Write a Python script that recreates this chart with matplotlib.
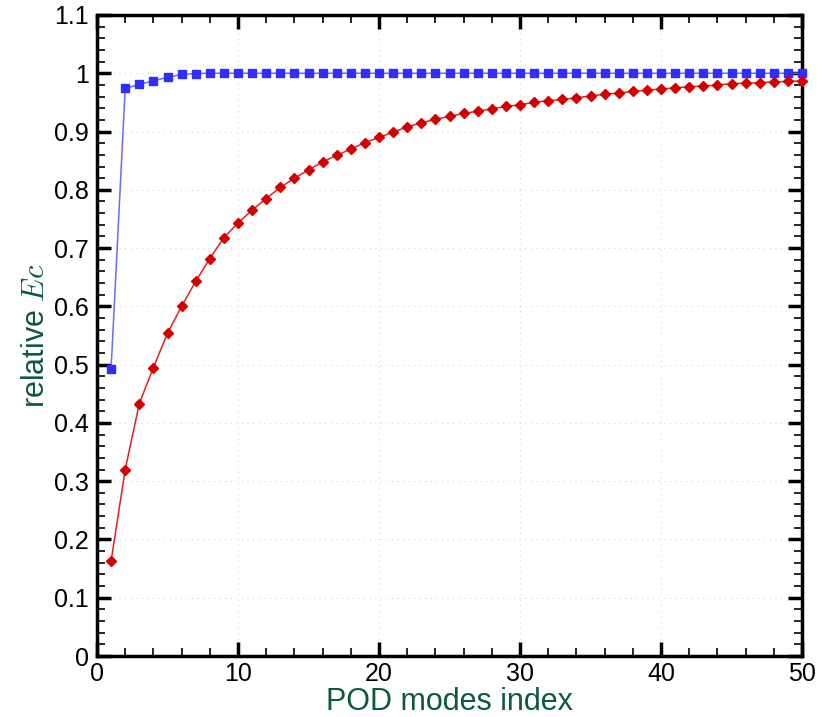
import matplotlib

matplotlib.use("Agg")
import matplotlib.pyplot as plt
import numpy as np
from matplotlib.ticker import MultipleLocator

plt.rcParams["font.family"] = ["Liberation Sans", "DejaVu Sans"]
plt.rcParams["mathtext.fontset"] = "cm"

# POD mode index and cumulative relative energy
modes = np.arange(1, 51)
ec_blue = [0.493, 0.974, 0.981, 0.987, 0.993, 0.998, 0.9995] + [1.0] * 43
ec_red = [
    0.163, 0.320, 0.433, 0.495, 0.554, 0.600, 0.643, 0.682, 0.718, 0.743,
    0.765, 0.785, 0.804, 0.820, 0.834, 0.848, 0.859, 0.870, 0.881, 0.890,
    0.899, 0.908, 0.915, 0.921, 0.926, 0.931, 0.935, 0.939, 0.943, 0.946,
    0.950, 0.953, 0.955, 0.958, 0.961, 0.964, 0.966, 0.969, 0.971, 0.973,
    0.975, 0.977, 0.978, 0.980, 0.982, 0.983, 0.984, 0.985, 0.986, 0.987,
]
ytick_labels = ["0", "0.1", "0.2", "0.3", "0.4", "0.5", "0.6", "0.7",
                "0.8", "0.9", "1", "1.1"]

LABEL = "#0b5a3a"

fig = plt.figure(figsize=(8.24, 7.17), dpi=100)
ax = fig.add_axes([97 / 824, 1 - 656 / 717, 705 / 824, 641 / 717])

ax.plot(modes, ec_blue, color="#6a6aff", linewidth=1.1, marker="s",
        markersize=5.5, markerfacecolor="#2e2eff", markeredgecolor="#2e2eff",
        clip_on=False, zorder=3)
ax.plot(modes, ec_red, color="#dd2222", linewidth=1.1, marker="D",
        markersize=5.5, markerfacecolor="#d40000", markeredgecolor="#d40000",
        clip_on=False, zorder=4)

ax.set_xlim(0, 50)
ax.set_ylim(0, 1.1)
ax.xaxis.set_major_locator(MultipleLocator(10))
ax.xaxis.set_minor_locator(MultipleLocator(2))
ax.yaxis.set_minor_locator(MultipleLocator(0.02))
ax.set_yticks(np.arange(0, 1.11, 0.1))
ax.set_yticklabels(ytick_labels)

ax.tick_params(which="major", direction="in", length=10, width=2.5,
               top=True, right=True, labelsize=18, pad=6)
ax.tick_params(axis="x", which="major", pad=4)
ax.tick_params(which="minor", direction="in", length=6, width=1.2,
               top=True, right=True)
for s in ax.spines.values():
    s.set_linewidth(2.5)

ax.grid(True, which="major", color="#d8d8d8", linestyle=(0, (1, 4)),
        linewidth=0.8)
ax.set_axisbelow(True)

ax.set_xlabel("POD modes index", fontsize=22, color=LABEL, labelpad=1)
ax.set_ylabel(r"relative $Ec$", fontsize=22, color=LABEL, labelpad=2)

fig.savefig("out.png", dpi=100)
